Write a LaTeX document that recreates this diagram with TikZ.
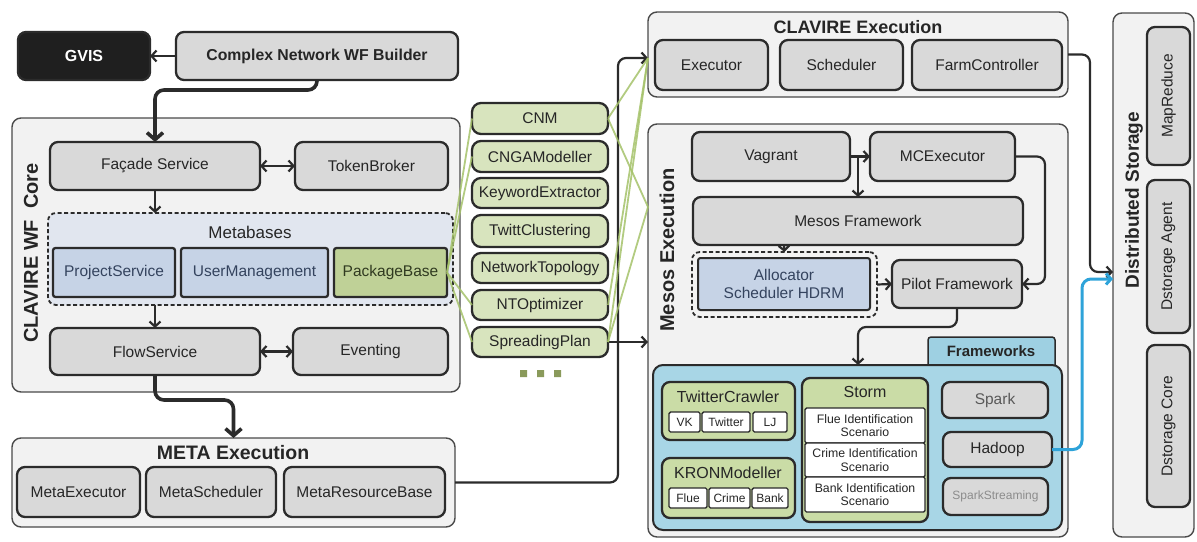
\documentclass[tikz,border=0pt]{standalone}
\usepackage{fontspec}
\setmainfont{Liberation Sans}
\usetikzlibrary{arrows.meta,calc}
\definecolor{bd}{HTML}{2B2B2B}
\definecolor{contbd}{HTML}{4A4A4A}
\definecolor{cont}{HTML}{F2F2F2}
\definecolor{boxgray}{HTML}{D9D9D9}
\definecolor{txt}{HTML}{262626}
\definecolor{metafill}{HTML}{E1E6EF}
\definecolor{bluefill}{HTML}{C6D3E6}
\definecolor{bluetxt}{HTML}{34435E}
\definecolor{pkgfill}{HTML}{BFD197}
\definecolor{pkgtxt}{HTML}{303A20}
\definecolor{modfill}{HTML}{D8E4BE}
\definecolor{gline}{HTML}{A5C26A}
\definecolor{fwfill}{HTML}{A8D6E6}
\definecolor{tabfill}{HTML}{9ED0E2}
\definecolor{grpfill}{HTML}{CADCA6}
\definecolor{bluec}{HTML}{2EA3D9}
\definecolor{dotc}{HTML}{8A9A5B}
\newcommand\fsz[2]{\fontsize{#1}{#2}\selectfont}
\newcommand\bx[7]{\node[#1, minimum width={(#5)-(#3)}, minimum height={(#6)-(#4)}] (#2) at ({((#3)+(#5))/2},{((#4)+(#6))/2}) {#7};}
\tikzset{
  base/.style={rounded corners=8pt, inner sep=0pt, outer sep=0pt, align=center, text=txt},
  container/.style={base, draw=contbd, line width=1.4pt, fill=cont, rounded corners=9pt},
  graybox/.style={base, draw=bd, line width=2.3pt, fill=boxgray, font=\fsz{15.5}{18}},
  darkbox/.style={base, draw=bd, line width=2.3pt, fill=black!88, text=white, font=\bfseries\fsz{16}{18}},
  dashbox/.style={base, draw=bd, line width=1.8pt, dash pattern=on 4pt off 2.5pt, fill=metafill},
  bluebox/.style={graybox, fill=bluefill, text=bluetxt, rounded corners=2.5pt},
  pkgbox/.style={graybox, fill=pkgfill, text=pkgtxt, rounded corners=2.5pt},
  modbox/.style={graybox, fill=modfill, rounded corners=9pt},
  grpbox/.style={base, draw=bd, line width=2.3pt, fill=grpfill, rounded corners=8pt},
  subbox/.style={base, draw=bd, line width=1.4pt, fill=white, rounded corners=1.5pt, font=\fsz{12}{13}},
  scenbox/.style={base, draw=bd, line width=1.4pt, fill=white, rounded corners=1.5pt, font=\fsz{12.3}{13.5}},
  fwbox/.style={base, draw=bd, line width=2pt, fill=fwfill, rounded corners=10pt},
  title/.style={inner sep=0pt, text=txt, font=\bfseries\fsz{18}{20}},
  conn/.style={draw=bd, line width=2.2pt, rounded corners=8pt},
  thickconn/.style={draw=bd, line width=3.6pt, rounded corners=9pt, >={Straight Barb[length=7pt,width=16pt]}},
  greenl/.style={draw=gline, line width=1.8pt, opacity=0.85},
  bluel/.style={draw=bluec, line width=3pt, rounded corners=9pt},
  >={Straight Barb[length=5pt,width=11pt]}
}
\begin{document}
\begin{tikzpicture}[x=1pt,y=-1pt]
\useasboundingbox (0,0) rectangle (1197,541);
% ---------- left column
\bx{darkbox}{gvis}{18}{32}{150}{80}{GVIS}
\bx{graybox,font=\bfseries\fsz{15.8}{18}}{builder}{176}{32}{458}{80}{Complex Network WF Builder}
\bx{container}{core}{12}{118}{460}{392}{}
\node[rotate=90, title, font=\bfseries\fsz{20}{22}] (corelbl) at (31,253) {CLAVIRE WF\ \ Core};
\bx{graybox}{facade}{50}{142}{260}{190}{Façade Service}
\bx{graybox}{token}{295}{142}{448}{190}{TokenBroker}
\bx{dashbox}{metab}{48}{213}{453}{305}{}
\node[inner sep=0pt, text=txt, font=\fsz{17}{19}] (metalbl) at (250,232) {Metabases};
\bx{bluebox}{projsvc}{53}{248}{175}{297}{ProjectService}
\bx{bluebox}{userman}{181}{248}{328}{297}{UserManagement}
\bx{pkgbox}{pkgbase}{334}{248}{447}{297}{PackageBase}
\bx{graybox}{flow}{50}{328}{260}{375}{FlowService}
\bx{graybox}{event}{293}{328}{448}{375}{Eventing}
\bx{container}{metaexec}{12}{438}{455}{527}{}
\node[title, font=\bfseries\fsz{19.5}{22}] (metaexeclbl) at (233,453) {META Execution};
\bx{graybox}{mexe}{17}{467}{140}{517}{MetaExecutor}
\bx{graybox}{msch}{146}{467}{276}{517}{MetaScheduler}
\bx{graybox}{mres}{284}{467}{445}{517}{MetaResourceBase}
% ---------- middle modules
\bx{modbox}{cnm}{472}{103}{608}{134}{CNM}
\bx{modbox}{cnga}{472}{141}{608}{172}{CNGAModeller}
\bx{modbox}{kwe}{472}{178}{608}{208}{KeywordExtractor}
\bx{modbox}{twc}{472}{215}{608}{247}{TwittClustering}
\bx{modbox}{ntop}{472}{253}{608}{283}{NetworkTopology}
\bx{modbox}{ntopt}{472}{290}{608}{320}{NTOptimizer}
\bx{modbox}{spread}{472}{327}{608}{357}{SpreadingPlan}
\fill[dotc] (520,370) rectangle (527,377) (537,370) rectangle (544,377) (554,370) rectangle (561,377);
% ---------- CLAVIRE execution
\bx{container}{clavexec}{648}{12}{1068}{97}{}
\node[title] (clavexeclbl) at (858,27) {CLAVIRE Execution};
\bx{graybox}{executor}{655}{40}{768}{90}{Executor}
\bx{graybox}{sched}{780}{40}{903}{90}{Scheduler}
\bx{graybox}{farm}{912}{40}{1062}{90}{FarmController}
% ---------- Mesos execution
\bx{container}{mesos}{648}{124}{1068}{537}{}
\node[rotate=90, title, font=\bfseries\fsz{20}{22}] (mesoslbl) at (667,250) {Mesos Execution};
\bx{graybox}{vagrant}{692}{132}{850}{181}{Vagrant}
\bx{graybox}{mcexec}{870}{132}{1015}{181}{MCExecutor}
\bx{graybox}{mesosfw}{693}{197}{1023}{245}{Mesos Framework}
\bx{dashbox, fill=none}{allocdash}{692}{252}{877}{317}{}
\bx{bluebox, line width=2pt}{alloc}{698}{258}{870}{310}{Allocator\\Scheduler HDRM}
\bx{graybox}{pilot}{892}{260}{1022}{308}{Pilot Framework}
\bx{base, draw=bd, line width=1.5pt, fill=tabfill, rounded corners=3pt}{tab}{928}{337}{1055}{372}{}
\node[inner sep=0pt, text=txt, font=\bfseries\fsz{15}{17}] (tablbl) at (991,351) {Frameworks};
\bx{fwbox}{fw}{653}{365}{1062}{530}{}
\bx{grpbox}{twcr}{662}{382}{795}{440}{}
\node[inner sep=0pt, text=txt, font=\fsz{16}{18}] (twcrlbl) at (728,397) {TwitterCrawler};
\bx{subbox}{vk}{669}{412}{700}{432}{VK}
\bx{subbox}{twitter}{702}{412}{750}{432}{Twitter}
\bx{subbox}{lj}{753}{412}{787}{432}{LJ}
\bx{grpbox}{kron}{662}{458}{795}{518}{}
\node[inner sep=0pt, text=txt, font=\fsz{16}{18}] (kronlbl) at (728,473) {KRONModeller};
\bx{subbox}{flue}{669}{488}{707}{508}{Flue}
\bx{subbox}{crime}{709}{488}{750}{508}{Crime}
\bx{subbox}{bank}{752}{488}{788}{508}{Bank}
\bx{grpbox}{storm}{802}{378}{928}{522}{}
\node[inner sep=0pt, text=txt, font=\fsz{16}{18}] (stormlbl) at (865,392) {Storm};
\bx{scenbox}{sc1}{805}{408}{925}{443}{Flue Identification\\Scenario}
\bx{scenbox}{sc2}{805}{443}{925}{477}{Crime Identification\\Scenario}
\bx{scenbox}{sc3}{805}{477}{925}{512}{Bank Identification\\Scenario}
\bx{graybox, text=black!65}{spark}{942}{382}{1048}{418}{Spark}
\bx{graybox}{hadoop}{943}{432}{1052}{467}{Hadoop}
\bx{graybox, text=black!45, font=\fsz{12}{14}}{sstream}{943}{478}{1048}{515}{SparkStreaming}
% ---------- Distributed storage
\bx{container}{storage}{1113}{13}{1194}{537}{}
\node[rotate=90, title, font=\bfseries\fsz{19}{21}] (storagelbl) at (1134,200) {Distributed Storage};
\node[graybox, rotate=90, minimum width=138, minimum height=43] (mapred) at (1168.5,96) {MapReduce};
\node[graybox, rotate=90, minimum width=153, minimum height=43] (dagent) at (1168.5,256.5) {Dstorage Agent};
\node[graybox, rotate=90, minimum width=162, minimum height=43] (dcore) at (1168.5,426) {Dstorage Core};
% ---------- connectors
\coordinate (bus) at (618,300);
\coordinate (ceIn) at (648,58);
\coordinate (meIn) at (648,207);
\coordinate (vbr) at (858,156.5);
\coordinate (mcb) at (1045,284);
\coordinate (dsbend) at (1090,272);
\coordinate (hbend) at (1082,279);
\draw[conn,->] (builder.west) -- (gvis.east);
\draw[thickconn,->] (builder.south) -- ++(0,10) -| (facade.north);
\draw[conn,<->] (facade.east) -- (token.west);
\draw[conn,->] (facade.south) -- (facade.south |- metab.north);
\draw[conn,->] (flow.north |- metab.south) -- (flow.north);
\draw[conn,<->] (flow.east) -- (event.west);
\draw[thickconn,->] (flow.south) -- ++(0,25) -| (metaexec.north);
\draw[conn,->] (metaexec.east) -| (bus) |- (clavexec.west |- ceIn);
\draw[conn,->] (spread.east) -- (spread.east -| mesos.west);
\draw[conn,->] (vagrant.east) -- (mcexec.west);
\draw[conn,->] (vbr) -- (vbr |- mesosfw.north);
\draw[conn,->] (alloc.north |- mesosfw.south) -- (allocdash.north);
\draw[conn,->] (allocdash.east) -- (pilot.west);
\draw[conn,->] (mcexec.east) -| (mcb) -- (pilot.east);
\draw[conn,->] (pilot.south) -- ++(0,19) -| ($(fw.north west)+(205,0)$);
\draw[conn,->] (clavexec.east) -| (dsbend) -- (dsbend -| storage.west);
\draw[bluel,->] (hadoop.east) -| (hbend) -- (hbend -| storage.west);
% green links
\foreach \m in {cnm,cnga,ntopt,spread} \draw[greenl] (pkgbase.east) -- (\m.west);
\draw[greenl] (cnm.east) -- (ceIn);
\draw[greenl] (cnm.east) -- (meIn);
\draw[greenl] (ntopt.east) -- (ceIn);
\draw[greenl] (spread.east) -- (ceIn);
\draw[greenl] (spread.east) -- (meIn);
\end{tikzpicture}
\end{document}
